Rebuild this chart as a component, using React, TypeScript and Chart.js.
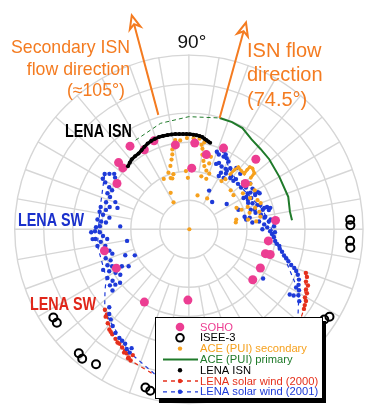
import React, { useEffect, useRef } from 'react';
import { Chart, registerables } from 'chart.js';

Chart.register(...registerables);

// ---- polar grid definition (radius units, degrees) ----
const RADIAL_RINGS = [30, 60, 90, 120, 150, 180];
const R_MAX = 180;
const ANGLE_LABEL = '90°';

// ---- data: [angle (deg), radius] ----
const SOHO: [number, number][] = [
  [125.4, 105], [119.3, 94], [111.6, 98], [99.1, 88], [86.1, 89], [76.8, 79], [66.8, 91],
  [136.6, 100], [137.2, 93], [87.3, 63], [46.2, 100], [39, 75], [147.6, 88], [5.8, 90],
  [351.7, 83], [342.4, 83], [342.8, 88], [331.6, 84], [321.8, 84], [194.2, 90], [208.1, 85],
  [238.5, 88], [269.2, 73],
];

const ISEE3: [number, number][] = [
  [3.4, 167], [1.4, 167], [355.9, 167], [353.5, 168], [213, 167], [215.2, 167], [228.3, 171],
  [230.4, 173], [235.4, 169], [254.6, 169], [256.5, 171], [326.4, 168], [328.2, 171],
];

const ACE_SECONDARY: [number, number][] = [
  [100.4, 88], [101.7, 84], [102.5, 79], [104, 74], [106.3, 68], [109.9, 62], [116.6, 58],
  [109.7, 56], [105.7, 59], [108.1, 55], [116.6, 42], [119.7, 32], [98.7, 93],
  [95.6, 92], [91.2, 94], [87, 94], [83.3, 94], [79.9, 91],
  [81.5, 88], [80.4, 84], [79.7, 78], [77.9, 72], [76.2, 67], [73.3, 63], [76.7, 56],
  [69.8, 61], [70.9, 55], [59.3, 37], [55.8, 60], [73, 78], [72.8, 71],
  [92.9, 60], [91.1, 53], [0, 0.5],
  [53.8, 64], [42.9, 59], [37.3, 58], [33.5, 67], [26.9, 71], [22.9, 77], [20.7, 65],
  [17.9, 72], [13.9, 75], [24.2, 54], [20.3, 58], [9.3, 62], [10, 75], [6.6, 70], [11.5, 50],
  [36.3, 79], [30.5, 79], [20, 79], [15.1, 65], [8.3, 49], [75.6, 36],
];

const ACE_SECONDARY_TRACE: [number, number][] = [
  [53, 71], [52.4, 77], [51.4, 82], [48, 81], [45, 81], [45.5, 86], [45.5, 90],
  [43.7, 91], [40.5, 89], [39.6, 83],
];

const ACE_PRIMARY: [number, number][] = [
  [74.5, 119], [68, 119], [62, 118], [55, 113], [48, 111], [41, 110], [30, 108],
  [18, 108], [10, 106], [5, 107],
];

const ACE_PRIMARY_EXT: [number, number][] = [
  [121, 107], [105, 113], [90, 116], [74.5, 119],
];

const LENA_ISN: [number, number][] = [
  [134.1, 90.5], [131.5, 92], [129.3, 93.1], [126.5, 93.5], [123.7, 93.7], [121, 95],
  [118.4, 96.6], [115.8, 98], [113.2, 99], [110.6, 99.5], [108.1, 99.9], [105.5, 99.8],
  [102.8, 99.5], [100.4, 99.3], [98.1, 99], [95.8, 98.6], [93.5, 98.2], [91.4, 98.1],
  [89.4, 98], [87.3, 97.6], [85.3, 97.3], [83.4, 96.6], [81.6, 96], [80.2, 94.5],
  [78.9, 93.7], [77.5, 92.6], [76.1, 91.7],
];

const LENA_SW_2000: [number, number][] = [
  [223.7, 120], [226.3, 124.5], [229.1, 128], [231.5, 132], [233.8, 134], [236.1, 136],
  [238.6, 138], [240.5, 140], [242.2, 141.5], [243.4, 143], [244.8, 146], [246, 148],
  [226, 122], [232.6, 133], [237.7, 138], [242.2, 143.6], [244.7, 147], [245.9, 142],
  [339.6, 129], [338.1, 131.5], [336, 132.5], [334.8, 136], [332.9, 136], [331.6, 138.7],
  [329.7, 139], [328.6, 141.8], [326.9, 143], [325.4, 144.5],
];

const LENA_SW_2000_TRACK: [number, number][] = [
  [339.6, 129], [325.4, 144.5], [306.8, 169], [277.3, 164], [256.5, 154], [246, 148],
  [233.8, 134], [223.7, 120],
];

const LENA_SW_2001: [number, number][] = [
  [70.1, 85], [67.5, 89], [65.8, 88], [68.1, 83], [64.4, 83], [61.9, 83], [63.7, 86], [59.6, 81],
  [65.5, 75], [62.4, 73], [67.3, 73], [58.5, 73], [55.7, 76], [52.1, 80], [57, 72], [60.4, 67],
  [60.6, 63], [56.3, 69], [51.3, 70], [51, 68], [47.4, 68], [46.7, 71], [47.1, 78], [42.7, 69],
  [40.6, 74], [38.5, 69], [36.1, 73], [36.7, 79], [31.2, 71], [30.7, 74], [27.2, 77], [28.2, 81],
  [26.9, 82], [29.7, 65], [26.2, 68], [22.2, 71], [19.4, 75], [14.7, 79], [15.9, 84], [13.5, 85],
  [17.4, 67], [13.8, 71], [11.5, 76], [8.7, 79], [5.5, 83], [6.3, 73], [3.7, 78], [1.4, 81],
  [358.6, 84], [0, 76], [356.7, 86], [354.8, 88], [352.3, 90], [350.6, 92], [349.6, 95], [348, 96],
  [346.5, 99], [344.6, 102], [343.5, 105], [342.2, 108], [340.8, 112], [339.9, 116], [338.8, 119],
  [337.4, 122], [335.5, 125], [333.2, 127], [331.1, 130], [329, 132], [327, 136], [327.2, 124],
  [327.8, 128], [331.6, 126], [326.5, 92], [49.4, 37], [33.7, 47], [21.4, 55], [12.6, 59],
  [10.8, 64], [6.1, 66], [9.6, 60], [29.2, 68], [23.9, 67], [32.5, 78], [28.2, 78], [26.6, 72],
  [18.7, 78], [15.8, 81], [14.7, 87], [16.4, 71], [9.3, 80], [6.8, 85], [2, 88], [358.1, 89],
  [55.8, 64], [62.3, 45],
  [146.8, 104], [145.2, 100], [143.5, 96], [145.1, 93], [149.7, 103], [150.8, 99], [152.3, 93],
  [153.1, 89], [156.2, 92], [157.8, 88], [159.8, 81], [162, 90], [164.3, 85], [165.8, 94],
  [166.9, 88], [168.9, 94], [170.4, 90], [171.7, 83], [173.9, 95], [175, 91], [175.3, 86],
  [178.1, 92], [178.8, 96], [181.2, 97], [181.9, 92], [181.7, 101], [184.5, 89], [185.9, 97],
  [185.8, 100], [188.1, 92], [190.3, 96], [186.8, 85], [191.2, 88], [177.6, 71], [163.4, 77],
  [190.6, 65], [205.7, 62], [202.2, 71], [192.9, 89], [195, 85], [197.6, 83], [199.2, 91],
  [201.6, 87], [203.8, 92], [205.7, 88], [208.8, 79], [211.5, 73], [205.3, 98], [207.7, 93],
  [210.6, 88], [213.5, 85], [210.8, 98], [213.9, 95], [215.3, 100], [216.9, 95], [217.8, 90],
  [218.6, 101], [224.3, 115], [226.7, 120], [229, 123], [231.7, 127], [234.6, 131],
  [237.3, 133], [239, 134], [240.8, 135], [242.5, 139], [244.3, 141], [244.2, 136],
];

const LENA_SW_2001_TRACK: [number, number][] = [
  [146.8, 104], [168.9, 94], [190.3, 96], [210.5, 99], [215.9, 107], [224, 121], [229.5, 125],
  [239, 134], [244.3, 141], [257.2, 154], [273.9, 162], [304, 163], [322.1, 143], [330.3, 131],
  [346.5, 99], [14.7, 79], [42.7, 69], [64.4, 83],
];

const ISN_ARROW: [number, number, number] = [74.5, 119, 221];
const SECONDARY_ARROW: [number, number, number] = [105, 122, 228];

// ---- colours ----
const C_PINK = '#ec3d92';
const C_ORANGE = '#f6a11e';
const C_GREEN = '#1f7a2a';
const C_RED = '#e5301c';
const C_BLUE = '#1e3ad8';
const C_ARROW = '#f47b20';
const C_GRID = '#d6d6d6';

const SANS = '"Liberation Sans", Arial, Helvetica, sans-serif';

const toXY = (pts: [number, number][]) =>
  pts.map(([a, r]) => ({
    x: r * Math.cos((a * Math.PI) / 180),
    y: r * Math.sin((a * Math.PI) / 180),
  }));

const polarPx = (chart: any, a: number, r: number) => {
  const t = (a * Math.PI) / 180;
  return [
    chart.scales.x.getPixelForValue(r * Math.cos(t)),
    chart.scales.y.getPixelForValue(r * Math.sin(t)),
  ];
};

const gridPlugin = {
  id: 'polarGrid',
  beforeDatasetsDraw(chart: any) {
    const ctx = chart.ctx;
    const cx = chart.scales.x.getPixelForValue(0);
    const cy = chart.scales.y.getPixelForValue(0);
    const unit = chart.scales.x.getPixelForValue(1) - cx;
    ctx.save();
    ctx.strokeStyle = C_GRID;
    ctx.lineWidth = 1.4;
    for (const r of RADIAL_RINGS) {
      ctx.beginPath();
      ctx.arc(cx, cy, r * unit, 0, Math.PI * 2);
      ctx.stroke();
    }
    for (let a = 0; a < 360; a += 10) {
      const r0 = a % 90 === 0 ? 0 : a % 30 === 0 ? RADIAL_RINGS[0] : RADIAL_RINGS[1];
      const [x0, y0] = polarPx(chart, a, r0);
      const [x1, y1] = polarPx(chart, a, R_MAX);
      ctx.beginPath();
      ctx.moveTo(x0, y0);
      ctx.lineTo(x1, y1);
      ctx.stroke();
    }
    ctx.restore();
  },
};

function drawArrow(chart: any, spec: [number, number, number]) {
  const ctx = chart.ctx;
  const [a, r0, r1] = spec;
  const [x0, y0] = polarPx(chart, a, r0);
  const [x1, y1] = polarPx(chart, a, r1);
  const ang = Math.atan2(y1 - y0, x1 - x0);
  const L = 13, W = 5.5, N = 9;
  const ux = Math.cos(ang), uy = Math.sin(ang);
  const px = -uy, py = ux;
  const nx = x1 - ux * N, ny = y1 - uy * N;
  ctx.save();
  ctx.strokeStyle = C_ARROW;
  ctx.lineWidth = 2;
  ctx.beginPath();
  ctx.moveTo(x0, y0);
  ctx.lineTo(nx, ny);
  ctx.stroke();
  ctx.beginPath();
  ctx.moveTo(x1, y1);
  ctx.lineTo(x1 - ux * L + px * W, y1 - uy * L + py * W);
  ctx.lineTo(nx, ny);
  ctx.lineTo(x1 - ux * L - px * W, y1 - uy * L - py * W);
  ctx.closePath();
  ctx.fillStyle = '#fff';
  ctx.fill();
  ctx.stroke();
  ctx.restore();
}

function narrowText(ctx: any, text: string, x: number, y: number, color: string) {
  ctx.save();
  ctx.translate(x, y);
  ctx.scale(0.82, 1);
  ctx.font = `bold 17.5px ${SANS}`;
  ctx.textAlign = 'left';
  ctx.textBaseline = 'alphabetic';
  ctx.fillStyle = color;
  ctx.fillText(text, 0, 0);
  ctx.restore();
}

type LegendItem = {
  label: string;
  color: string;
  marker: 'dot' | 'ring' | 'small' | 'none';
  line: 'none' | 'solid' | 'dash';
};

const LEGEND_ITEMS: LegendItem[] = [
  { label: 'SOHO', color: C_PINK, marker: 'dot', line: 'none' },
  { label: 'ISEE-3', color: '#000', marker: 'ring', line: 'none' },
  { label: 'ACE (PUI) secondary', color: C_ORANGE, marker: 'small', line: 'none' },
  { label: 'ACE (PUI) primary', color: C_GREEN, marker: 'none', line: 'solid' },
  { label: 'LENA ISN', color: '#000', marker: 'small', line: 'none' },
  { label: 'LENA solar wind (2000)', color: C_RED, marker: 'small', line: 'dash' },
  { label: 'LENA solar wind (2001)', color: C_BLUE, marker: 'small', line: 'dash' },
];

const overlayPlugin = {
  id: 'overlay',
  afterDraw(chart: any) {
    const ctx = chart.ctx;
    ctx.save();
    // angle label
    const [lx, ly] = polarPx(chart, 90, 187);
    ctx.fillStyle = '#111';
    ctx.font = `19px ${SANS}`;
    ctx.textAlign = 'center';
    ctx.textBaseline = 'alphabetic';
    ctx.fillText(ANGLE_LABEL, lx + 3, ly);

    drawArrow(chart, ISN_ARROW);
    drawArrow(chart, SECONDARY_ARROW);

    ctx.fillStyle = C_ARROW;
    ctx.font = `17.7px ${SANS}`;
    ctx.textAlign = 'right';
    ctx.fillText('Secondary ISN', 130, 53);
    ctx.fillText('flow direction', 130, 75);
    ctx.fillText('(≈105°)', 125, 96);

    ctx.font = `20px ${SANS}`;
    ctx.textAlign = 'left';
    ctx.fillText('ISN flow', 247, 57);
    ctx.fillText('direction', 247, 81);
    ctx.fillText('(74.5°)', 247, 106);

    narrowText(ctx, 'LENA ISN', 65, 137, '#000');
    narrowText(ctx, 'LENA SW', 18, 226, '#1a30cc');
    narrowText(ctx, 'LENA SW', 30, 310, '#e0261a');

    // legend box
    const bx = 155, by = 317, bw = 167, bh = 81;
    ctx.fillStyle = '#000';
    ctx.fillRect(bx + 4, by + 4, bw, bh + 1);
    ctx.fillStyle = '#fff';
    ctx.fillRect(bx, by, bw, bh);
    ctx.strokeStyle = '#000';
    ctx.lineWidth = 1;
    ctx.strokeRect(bx + 0.5, by + 0.5, bw, bh);

    const rowH = 10.8;
    const sx = 180;
    ctx.font = `11.2px ${SANS}`;
    ctx.textBaseline = 'middle';
    ctx.textAlign = 'left';
    LEGEND_ITEMS.forEach((it, i) => {
      const yy = by + 10 + i * rowH;
      if (it.line !== 'none') {
        ctx.strokeStyle = it.color;
        ctx.lineWidth = it.line === 'solid' ? 2 : 1.3;
        ctx.setLineDash(it.line === 'dash' ? [4, 4] : []);
        ctx.beginPath();
        ctx.moveTo(163, yy);
        ctx.lineTo(198, yy);
        ctx.stroke();
        ctx.setLineDash([]);
      }
      if (it.marker === 'dot') {
        ctx.fillStyle = it.color;
        ctx.beginPath();
        ctx.arc(sx, yy, 4.3, 0, Math.PI * 2);
        ctx.fill();
      } else if (it.marker === 'ring') {
        ctx.strokeStyle = it.color;
        ctx.lineWidth = 2;
        ctx.beginPath();
        ctx.arc(sx, yy, 3.8, 0, Math.PI * 2);
        ctx.stroke();
      } else if (it.marker === 'small') {
        ctx.fillStyle = it.color;
        ctx.beginPath();
        ctx.arc(sx, yy, 2.2, 0, Math.PI * 2);
        ctx.fill();
      }
      ctx.fillStyle = it.color;
      ctx.fillText(it.label, 200, yy + 0.5);
    });
    ctx.restore();
  },
};

export default function App() {
  const ref = useRef<HTMLCanvasElement | null>(null);
  useEffect(() => {
    if (!ref.current) return;
    const dot = (label: string, pts: [number, number][], color: string, r: number, order: number) => ({
      label,
      data: toXY(pts),
      backgroundColor: color,
      borderColor: color,
      borderWidth: 0,
      pointRadius: r,
      showLine: false,
      order,
    });
    const chart = new Chart(ref.current, {
      type: 'scatter',
      data: {
        datasets: [
          {
            label: 'ISEE-3',
            data: toXY(ISEE3),
            backgroundColor: 'rgba(0,0,0,0)',
            borderColor: '#000',
            borderWidth: 2,
            pointRadius: 4,
            showLine: false,
            order: 3,
          },
          {
            label: 'LENA ISN',
            data: toXY(LENA_ISN),
            backgroundColor: '#000',
            borderColor: '#000',
            borderWidth: 3.2,
            pointRadius: 2,
            pointBorderWidth: 0,
            showLine: true,
            order: 4,
          },
          dot('SOHO', SOHO, C_PINK, 4.5, 5),
          dot('ACE (PUI) secondary', ACE_SECONDARY, C_ORANGE, 2.1, 6),
          {
            label: 'ACE (PUI) secondary trace',
            data: toXY(ACE_SECONDARY_TRACE),
            backgroundColor: C_ORANGE,
            borderColor: C_ORANGE,
            borderWidth: 3,
            pointRadius: 1.8,
            pointBorderWidth: 0,
            showLine: true,
            order: 6,
          },
          dot('LENA solar wind (2001)', LENA_SW_2001, C_BLUE, 2.2, 7),
          dot('LENA solar wind (2000)', LENA_SW_2000, C_RED, 2.2, 8),
          {
            label: 'ACE (PUI) primary',
            data: toXY(ACE_PRIMARY),
            borderColor: C_GREEN,
            borderWidth: 2,
            pointRadius: 0,
            showLine: true,
            order: 9,
          },
          {
            label: 'ACE (PUI) primary ext',
            data: toXY(ACE_PRIMARY_EXT),
            borderColor: C_GREEN,
            borderWidth: 1,
            borderDash: [4, 3],
            pointRadius: 0,
            showLine: true,
            order: 9,
          },
          {
            label: 'LENA SW 2001 track',
            data: toXY(LENA_SW_2001_TRACK),
            borderColor: C_BLUE,
            borderWidth: 1.2,
            borderDash: [4, 4],
            pointRadius: 0,
            showLine: true,
            order: 10,
          },
          {
            label: 'LENA SW 2000 track',
            data: toXY(LENA_SW_2000_TRACK),
            borderColor: C_RED,
            borderWidth: 1.2,
            borderDash: [4, 4],
            pointRadius: 0,
            showLine: true,
            order: 10,
          },
        ],
      },
      options: {
        animation: false,
        responsive: false,
        maintainAspectRatio: false,
        events: [],
        layout: { padding: 0 },
        scales: {
          x: { type: 'linear', min: -189, max: 181, display: false },
          y: { type: 'linear', min: -180, max: 230, display: false },
        },
        plugins: { legend: { display: false }, tooltip: { enabled: false } },
      },
      plugins: [gridPlugin, overlayPlugin],
    } as any);
    return () => chart.destroy();
  }, []);
  return (
    <div style={{ position: 'fixed', left: 0, top: 0, width: 370, height: 410, background: '#fff' }}>
      <canvas ref={ref} width={370} height={410} style={{ display: 'block' }} />
    </div>
  );
}
